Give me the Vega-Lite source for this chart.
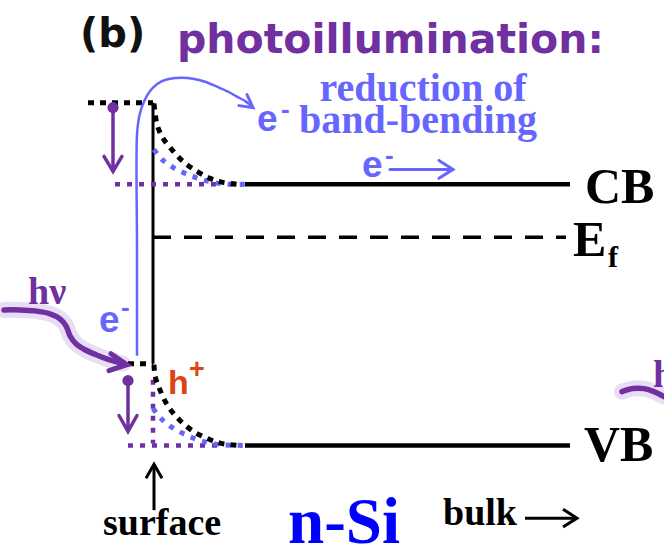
{
  "$schema": "https://vega.github.io/schema/vega-lite/v6.json",
  "width": 664,
  "height": 556,
  "autosize": {"type": "fit", "contains": "padding"},
  "padding": 0,
  "background": "white",
  "config": {"view": {"stroke": null}},
  "datasets": {
    "paths": [
      {"part": "band", "seg": "cb", "i": 0, "x": 245, "y": 185},
      {"part": "band", "seg": "cb", "i": 1, "x": 570, "y": 185},
      {"part": "band", "seg": "vb", "i": 0, "x": 245, "y": 447},
      {"part": "band", "seg": "vb", "i": 1, "x": 570, "y": 447},

      {"part": "wall", "seg": "wall", "i": 0, "x": 153, "y": 103},
      {"part": "wall", "seg": "wall", "i": 1, "x": 153, "y": 365},

      {"part": "fermi", "seg": "ef", "i": 0, "x": 153, "y": 238},
      {"part": "fermi", "seg": "ef", "i": 1, "x": 566, "y": 238},

      {"part": "dark-flat", "seg": "cb-dark-flat", "i": 0, "x": 88, "y": 103},
      {"part": "dark-flat", "seg": "cb-dark-flat", "i": 1, "x": 153, "y": 103},
      {"part": "dark-flat", "seg": "vb-dark-flat", "i": 0, "x": 128, "y": 365},
      {"part": "dark-flat", "seg": "vb-dark-flat", "i": 1, "x": 153, "y": 365},

      {"part": "dark-bend", "seg": "cb-dark", "i": 0, "x": 154, "y": 104},
      {"part": "dark-bend", "seg": "cb-dark", "i": 1, "x": 155, "y": 112},
      {"part": "dark-bend", "seg": "cb-dark", "i": 2, "x": 157, "y": 125},
      {"part": "dark-bend", "seg": "cb-dark", "i": 3, "x": 162, "y": 137},
      {"part": "dark-bend", "seg": "cb-dark", "i": 4, "x": 170, "y": 148},
      {"part": "dark-bend", "seg": "cb-dark", "i": 5, "x": 183, "y": 162},
      {"part": "dark-bend", "seg": "cb-dark", "i": 6, "x": 197, "y": 172},
      {"part": "dark-bend", "seg": "cb-dark", "i": 7, "x": 210, "y": 179},
      {"part": "dark-bend", "seg": "cb-dark", "i": 8, "x": 223, "y": 183},
      {"part": "dark-bend", "seg": "cb-dark", "i": 9, "x": 237, "y": 185},
      {"part": "dark-bend", "seg": "vb-dark", "i": 0, "x": 154, "y": 366},
      {"part": "dark-bend", "seg": "vb-dark", "i": 1, "x": 155, "y": 377},
      {"part": "dark-bend", "seg": "vb-dark", "i": 2, "x": 159, "y": 389},
      {"part": "dark-bend", "seg": "vb-dark", "i": 3, "x": 167, "y": 406},
      {"part": "dark-bend", "seg": "vb-dark", "i": 4, "x": 177, "y": 419},
      {"part": "dark-bend", "seg": "vb-dark", "i": 5, "x": 192, "y": 432},
      {"part": "dark-bend", "seg": "vb-dark", "i": 6, "x": 207, "y": 440},
      {"part": "dark-bend", "seg": "vb-dark", "i": 7, "x": 221, "y": 445},
      {"part": "dark-bend", "seg": "vb-dark", "i": 8, "x": 237, "y": 447},

      {"part": "shift", "seg": "cb-shift", "i": 0, "x": 115, "y": 185},
      {"part": "shift", "seg": "cb-shift", "i": 1, "x": 218, "y": 185},
      {"part": "shift", "seg": "vb-shift", "i": 0, "x": 128, "y": 447},
      {"part": "shift", "seg": "vb-shift", "i": 1, "x": 218, "y": 447},
      {"part": "shift", "seg": "vb-shift-wall", "i": 0, "x": 153, "y": 381},
      {"part": "shift", "seg": "vb-shift-wall", "i": 1, "x": 153, "y": 445},

      {"part": "light-bend", "seg": "cb-light", "i": 0, "x": 154, "y": 150},
      {"part": "light-bend", "seg": "cb-light", "i": 1, "x": 162, "y": 160},
      {"part": "light-bend", "seg": "cb-light", "i": 2, "x": 173, "y": 168},
      {"part": "light-bend", "seg": "cb-light", "i": 3, "x": 185, "y": 174},
      {"part": "light-bend", "seg": "cb-light", "i": 4, "x": 198, "y": 179},
      {"part": "light-bend", "seg": "cb-light", "i": 5, "x": 213, "y": 183},
      {"part": "light-bend", "seg": "cb-light", "i": 6, "x": 228, "y": 185},
      {"part": "light-bend", "seg": "cb-light", "i": 7, "x": 245, "y": 185},
      {"part": "light-bend", "seg": "vb-light", "i": 0, "x": 153, "y": 410},
      {"part": "light-bend", "seg": "vb-light", "i": 1, "x": 162, "y": 421},
      {"part": "light-bend", "seg": "vb-light", "i": 2, "x": 172, "y": 429},
      {"part": "light-bend", "seg": "vb-light", "i": 3, "x": 185, "y": 436},
      {"part": "light-bend", "seg": "vb-light", "i": 4, "x": 200, "y": 442},
      {"part": "light-bend", "seg": "vb-light", "i": 5, "x": 217, "y": 446},
      {"part": "light-bend", "seg": "vb-light", "i": 6, "x": 245, "y": 447},

      {"part": "e-curve", "seg": "e-arc", "i": 0, "x": 137, "y": 357},
      {"part": "e-curve", "seg": "e-arc", "i": 1, "x": 137, "y": 250},
      {"part": "e-curve", "seg": "e-arc", "i": 2, "x": 137, "y": 135},
      {"part": "e-curve", "seg": "e-arc", "i": 3, "x": 139, "y": 118},
      {"part": "e-curve", "seg": "e-arc", "i": 4, "x": 142, "y": 107},
      {"part": "e-curve", "seg": "e-arc", "i": 5, "x": 147, "y": 96},
      {"part": "e-curve", "seg": "e-arc", "i": 6, "x": 153, "y": 88},
      {"part": "e-curve", "seg": "e-arc", "i": 7, "x": 161, "y": 82},
      {"part": "e-curve", "seg": "e-arc", "i": 8, "x": 170, "y": 79},
      {"part": "e-curve", "seg": "e-arc", "i": 9, "x": 182, "y": 78},
      {"part": "e-curve", "seg": "e-arc", "i": 10, "x": 193, "y": 79},
      {"part": "e-curve", "seg": "e-arc", "i": 11, "x": 205, "y": 82},
      {"part": "e-curve", "seg": "e-arc", "i": 12, "x": 217, "y": 87},
      {"part": "e-curve", "seg": "e-arc", "i": 13, "x": 228, "y": 92},
      {"part": "e-curve", "seg": "e-arc", "i": 14, "x": 237, "y": 97},
      {"part": "e-curve", "seg": "e-arc", "i": 15, "x": 246, "y": 102},
      {"part": "e-curve", "seg": "e-arc", "i": 16, "x": 253, "y": 108},

      {"part": "e-straight", "seg": "e-arc-head", "i": 0, "x": 247, "y": 95},
      {"part": "e-straight", "seg": "e-arc-head", "i": 1, "x": 253, "y": 108},
      {"part": "e-straight", "seg": "e-arc-head", "i": 2, "x": 239, "y": 106},
      {"part": "e-straight", "seg": "e-drift", "i": 0, "x": 390, "y": 170},
      {"part": "e-straight", "seg": "e-drift", "i": 1, "x": 452, "y": 170},
      {"part": "e-straight", "seg": "e-drift-head", "i": 0, "x": 439, "y": 161},
      {"part": "e-straight", "seg": "e-drift-head", "i": 1, "x": 453, "y": 170},
      {"part": "e-straight", "seg": "e-drift-head", "i": 2, "x": 439, "y": 179},

      {"part": "photon", "seg": "hv-wave", "i": 0, "x": 4, "y": 311},
      {"part": "photon", "seg": "hv-wave", "i": 1, "x": 20, "y": 311},
      {"part": "photon", "seg": "hv-wave", "i": 2, "x": 35, "y": 312},
      {"part": "photon", "seg": "hv-wave", "i": 3, "x": 50, "y": 315},
      {"part": "photon", "seg": "hv-wave", "i": 4, "x": 60, "y": 320},
      {"part": "photon", "seg": "hv-wave", "i": 5, "x": 66, "y": 327},
      {"part": "photon", "seg": "hv-wave", "i": 6, "x": 70, "y": 337},
      {"part": "photon", "seg": "hv-wave", "i": 7, "x": 76, "y": 345},
      {"part": "photon", "seg": "hv-wave", "i": 8, "x": 85, "y": 351},
      {"part": "photon", "seg": "hv-wave", "i": 9, "x": 96, "y": 356},
      {"part": "photon", "seg": "hv-wave", "i": 10, "x": 109, "y": 361},
      {"part": "photon", "seg": "hv-wave", "i": 11, "x": 123, "y": 365},
      {"part": "photon", "seg": "hv-wave-2", "i": 0, "x": 622, "y": 393},
      {"part": "photon", "seg": "hv-wave-2", "i": 1, "x": 633, "y": 390},
      {"part": "photon", "seg": "hv-wave-2", "i": 2, "x": 644, "y": 390},
      {"part": "photon", "seg": "hv-wave-2", "i": 3, "x": 654, "y": 393},
      {"part": "photon", "seg": "hv-wave-2", "i": 4, "x": 664, "y": 398},

      {"part": "photon-head", "seg": "hv-head", "i": 0, "x": 111, "y": 355},
      {"part": "photon-head", "seg": "hv-head", "i": 1, "x": 127, "y": 366},
      {"part": "photon-head", "seg": "hv-head", "i": 2, "x": 109, "y": 372},

      {"part": "drop", "seg": "drop-cb", "i": 0, "x": 113, "y": 108},
      {"part": "drop", "seg": "drop-cb", "i": 1, "x": 113, "y": 171},
      {"part": "drop", "seg": "drop-cb-head", "i": 0, "x": 104, "y": 157},
      {"part": "drop", "seg": "drop-cb-head", "i": 1, "x": 113, "y": 172},
      {"part": "drop", "seg": "drop-cb-head", "i": 2, "x": 122, "y": 157},
      {"part": "drop", "seg": "drop-vb", "i": 0, "x": 128, "y": 382},
      {"part": "drop", "seg": "drop-vb", "i": 1, "x": 128, "y": 432},
      {"part": "drop", "seg": "drop-vb-head", "i": 0, "x": 119, "y": 417},
      {"part": "drop", "seg": "drop-vb-head", "i": 1, "x": 128, "y": 433},
      {"part": "drop", "seg": "drop-vb-head", "i": 2, "x": 137, "y": 417},

      {"part": "pointer", "seg": "surface-arrow", "i": 0, "x": 154, "y": 512},
      {"part": "pointer", "seg": "surface-arrow", "i": 1, "x": 154, "y": 468},
      {"part": "pointer", "seg": "surface-head", "i": 0, "x": 146, "y": 480},
      {"part": "pointer", "seg": "surface-head", "i": 1, "x": 154, "y": 466},
      {"part": "pointer", "seg": "surface-head", "i": 2, "x": 162, "y": 480},
      {"part": "pointer", "seg": "bulk-arrow", "i": 0, "x": 525, "y": 520},
      {"part": "pointer", "seg": "bulk-arrow", "i": 1, "x": 575, "y": 520},
      {"part": "pointer", "seg": "bulk-head", "i": 0, "x": 563, "y": 511},
      {"part": "pointer", "seg": "bulk-head", "i": 1, "x": 577, "y": 520},
      {"part": "pointer", "seg": "bulk-head", "i": 2, "x": 563, "y": 529}
    ],
    "dots": [
      {"x": 113, "y": 108},
      {"x": 128, "y": 382}
    ],
    "labels": [
      {"role": "panel", "text": "(b)", "x": 80, "y": 47},
      {"role": "heading", "text": "photoillumination:", "x": 177, "y": 53},
      {"role": "note", "text": "reduction of", "x": 423, "y": 101},
      {"role": "note", "text": "band-bending", "x": 418, "y": 133},
      {"role": "carrier-e", "text": "e", "x": 257, "y": 131},
      {"role": "carrier-e", "text": "e", "x": 362, "y": 178},
      {"role": "carrier-e", "text": "e", "x": 99, "y": 333},
      {"role": "sign-e", "text": "-", "x": 281, "y": 110},
      {"role": "sign-e", "text": "-", "x": 385, "y": 157},
      {"role": "sign-e", "text": "-", "x": 121, "y": 309},
      {"role": "carrier-h", "text": "h", "x": 168, "y": 395},
      {"role": "sign-h", "text": "+", "x": 189, "y": 371},
      {"role": "photon", "text": "hν", "x": 28, "y": 305},
      {"role": "photon-edge", "text": "hν", "x": 653, "y": 388},
      {"role": "band-name", "text": "CB", "x": 585, "y": 204},
      {"role": "band-name", "text": "E", "x": 573, "y": 257},
      {"role": "band-name", "text": "VB", "x": 584, "y": 463},
      {"role": "band-sub", "text": "f", "x": 608, "y": 268},
      {"role": "place", "text": "surface", "x": 103, "y": 537},
      {"role": "place", "text": "bulk", "x": 443, "y": 527},
      {"role": "material", "text": "n-Si", "x": 288, "y": 545}
    ]
  },
  "encoding": {
    "x": {"field": "x", "type": "quantitative", "scale": {"domain": [0, 664], "nice": false, "zero": false}, "axis": null},
    "y": {"field": "y", "type": "quantitative", "scale": {"domain": [0, 556], "nice": false, "zero": false, "reverse": true}, "axis": null}
  },
  "layer": [
    {
      "data": {"name": "paths"},
      "transform": [{"filter": "datum.part === 'photon'"}],
      "mark": {"type": "line", "color": "#9a66cc", "strokeWidth": 16, "opacity": 0.22, "interpolate": "catmull-rom", "strokeCap": "round", "clip": true},
      "encoding": {"detail": {"field": "seg"}, "order": {"field": "i", "type": "quantitative"}}
    },
    {
      "data": {"name": "paths"},
      "transform": [{"filter": "datum.part === 'band'"}],
      "mark": {"type": "line", "color": "#000000", "strokeWidth": 4.5, "strokeCap": "butt"},
      "encoding": {"detail": {"field": "seg"}, "order": {"field": "i", "type": "quantitative"}}
    },
    {
      "data": {"name": "paths"},
      "transform": [{"filter": "datum.part === 'wall'"}],
      "mark": {"type": "line", "color": "#000000", "strokeWidth": 3, "strokeCap": "butt"},
      "encoding": {"detail": {"field": "seg"}, "order": {"field": "i", "type": "quantitative"}}
    },
    {
      "data": {"name": "paths"},
      "transform": [{"filter": "datum.part === 'fermi'"}],
      "mark": {"type": "line", "color": "#000000", "strokeWidth": 3.5, "strokeDash": [18, 13], "strokeCap": "butt"},
      "encoding": {"detail": {"field": "seg"}, "order": {"field": "i", "type": "quantitative"}}
    },
    {
      "data": {"name": "paths"},
      "transform": [{"filter": "datum.part === 'shift'"}],
      "mark": {"type": "line", "color": "#7030a0", "strokeWidth": 4.5, "strokeDash": [5, 7], "strokeCap": "butt"},
      "encoding": {"detail": {"field": "seg"}, "order": {"field": "i", "type": "quantitative"}}
    },
    {
      "data": {"name": "paths"},
      "transform": [{"filter": "datum.part === 'light-bend'"}],
      "mark": {"type": "line", "color": "#6666ff", "strokeWidth": 5, "strokeDash": [5, 7], "strokeCap": "butt", "interpolate": "catmull-rom"},
      "encoding": {"detail": {"field": "seg"}, "order": {"field": "i", "type": "quantitative"}}
    },
    {
      "data": {"name": "paths"},
      "transform": [{"filter": "datum.part === 'dark-flat'"}],
      "mark": {"type": "line", "color": "#000000", "strokeWidth": 5, "strokeDash": [6, 6], "strokeCap": "butt"},
      "encoding": {"detail": {"field": "seg"}, "order": {"field": "i", "type": "quantitative"}}
    },
    {
      "data": {"name": "paths"},
      "transform": [{"filter": "datum.part === 'dark-bend'"}],
      "mark": {"type": "line", "color": "#000000", "strokeWidth": 5, "strokeDash": [6, 6], "strokeCap": "butt", "interpolate": "catmull-rom"},
      "encoding": {"detail": {"field": "seg"}, "order": {"field": "i", "type": "quantitative"}}
    },
    {
      "data": {"name": "paths"},
      "transform": [{"filter": "datum.part === 'e-curve'"}],
      "mark": {"type": "line", "color": "#6666ff", "strokeWidth": 2.5, "interpolate": "catmull-rom"},
      "encoding": {"detail": {"field": "seg"}, "order": {"field": "i", "type": "quantitative"}}
    },
    {
      "data": {"name": "paths"},
      "transform": [{"filter": "datum.part === 'e-straight'"}],
      "mark": {"type": "line", "color": "#6666ff", "strokeWidth": 3, "strokeJoin": "miter", "strokeCap": "round"},
      "encoding": {"detail": {"field": "seg"}, "order": {"field": "i", "type": "quantitative"}}
    },
    {
      "data": {"name": "paths"},
      "transform": [{"filter": "datum.part === 'photon'"}],
      "mark": {"type": "line", "color": "#7030a0", "strokeWidth": 5.5, "interpolate": "catmull-rom", "strokeCap": "round", "clip": true},
      "encoding": {"detail": {"field": "seg"}, "order": {"field": "i", "type": "quantitative"}}
    },
    {
      "data": {"name": "paths"},
      "transform": [{"filter": "datum.part === 'photon-head'"}],
      "mark": {"type": "line", "color": "#7030a0", "strokeWidth": 5, "strokeCap": "round", "strokeJoin": "miter"},
      "encoding": {"detail": {"field": "seg"}, "order": {"field": "i", "type": "quantitative"}}
    },
    {
      "data": {"name": "paths"},
      "transform": [{"filter": "datum.part === 'drop'"}],
      "mark": {"type": "line", "color": "#7030a0", "strokeWidth": 3.5, "strokeCap": "round", "strokeJoin": "miter"},
      "encoding": {"detail": {"field": "seg"}, "order": {"field": "i", "type": "quantitative"}}
    },
    {
      "data": {"name": "paths"},
      "transform": [{"filter": "datum.part === 'pointer'"}],
      "mark": {"type": "line", "color": "#000000", "strokeWidth": 3, "strokeCap": "butt", "strokeJoin": "miter"},
      "encoding": {"detail": {"field": "seg"}, "order": {"field": "i", "type": "quantitative"}}
    },
    {
      "data": {"name": "dots"},
      "mark": {"type": "point", "shape": "circle", "filled": true, "color": "#7030a0", "size": 125, "opacity": 1}
    },
    {
      "data": {"name": "labels"},
      "transform": [{"filter": "datum.role === 'panel'"}],
      "mark": {"type": "text", "align": "left", "baseline": "alphabetic", "font": "DejaVu Sans", "fontWeight": "bold", "fontSize": 40, "fill": "#111111"},
      "encoding": {"text": {"field": "text"}}
    },
    {
      "data": {"name": "labels"},
      "transform": [{"filter": "datum.role === 'heading'"}],
      "mark": {"type": "text", "align": "left", "baseline": "alphabetic", "font": "DejaVu Sans", "fontWeight": "bold", "fontSize": 41, "fill": "#7030a0"},
      "encoding": {"text": {"field": "text"}}
    },
    {
      "data": {"name": "labels"},
      "transform": [{"filter": "datum.role === 'note'"}],
      "mark": {"type": "text", "align": "center", "baseline": "alphabetic", "font": "Liberation Serif", "fontWeight": "bold", "fontSize": 40, "fill": "#6666ff"},
      "encoding": {"text": {"field": "text"}}
    },
    {
      "data": {"name": "labels"},
      "transform": [{"filter": "datum.role === 'carrier-e'"}],
      "mark": {"type": "text", "align": "left", "baseline": "alphabetic", "font": "Liberation Sans", "fontWeight": "bold", "fontSize": 37, "fill": "#6666ff"},
      "encoding": {"text": {"field": "text"}}
    },
    {
      "data": {"name": "labels"},
      "transform": [{"filter": "datum.role === 'sign-e'"}],
      "mark": {"type": "text", "align": "left", "baseline": "middle", "font": "Liberation Sans", "fontWeight": "bold", "fontSize": 26, "fill": "#6666ff"},
      "encoding": {"text": {"field": "text"}}
    },
    {
      "data": {"name": "labels"},
      "transform": [{"filter": "datum.role === 'carrier-h'"}],
      "mark": {"type": "text", "align": "left", "baseline": "alphabetic", "font": "Liberation Sans", "fontWeight": "bold", "fontSize": 34, "fill": "#dd4411"},
      "encoding": {"text": {"field": "text"}}
    },
    {
      "data": {"name": "labels"},
      "transform": [{"filter": "datum.role === 'sign-h'"}],
      "mark": {"type": "text", "align": "left", "baseline": "middle", "font": "Liberation Sans", "fontWeight": "bold", "fontSize": 27, "fill": "#dd4411"},
      "encoding": {"text": {"field": "text"}}
    },
    {
      "data": {"name": "labels"},
      "transform": [{"filter": "datum.role === 'photon' || datum.role === 'photon-edge'"}],
      "mark": {"type": "text", "align": "left", "baseline": "alphabetic", "font": "Liberation Serif", "fontWeight": "bold", "fontSize": 38, "fill": "#7030a0", "clip": true},
      "encoding": {"text": {"field": "text"}}
    },
    {
      "data": {"name": "labels"},
      "transform": [{"filter": "datum.role === 'band-name'"}],
      "mark": {"type": "text", "align": "left", "baseline": "alphabetic", "font": "Liberation Serif", "fontWeight": "bold", "fontSize": 50, "fill": "#000000"},
      "encoding": {"text": {"field": "text"}}
    },
    {
      "data": {"name": "labels"},
      "transform": [{"filter": "datum.role === 'band-sub'"}],
      "mark": {"type": "text", "align": "left", "baseline": "alphabetic", "font": "Liberation Serif", "fontWeight": "bold", "fontSize": 30, "fill": "#000000"},
      "encoding": {"text": {"field": "text"}}
    },
    {
      "data": {"name": "labels"},
      "transform": [{"filter": "datum.role === 'place'"}],
      "mark": {"type": "text", "align": "left", "baseline": "alphabetic", "font": "Liberation Serif", "fontWeight": "bold", "fontSize": 38, "fill": "#000000"},
      "encoding": {"text": {"field": "text"}}
    },
    {
      "data": {"name": "labels"},
      "transform": [{"filter": "datum.role === 'material'"}],
      "mark": {"type": "text", "align": "left", "baseline": "alphabetic", "font": "Liberation Serif", "fontWeight": "bold", "fontSize": 65, "fill": "#0000ff"},
      "encoding": {"text": {"field": "text"}}
    }
  ]
}
